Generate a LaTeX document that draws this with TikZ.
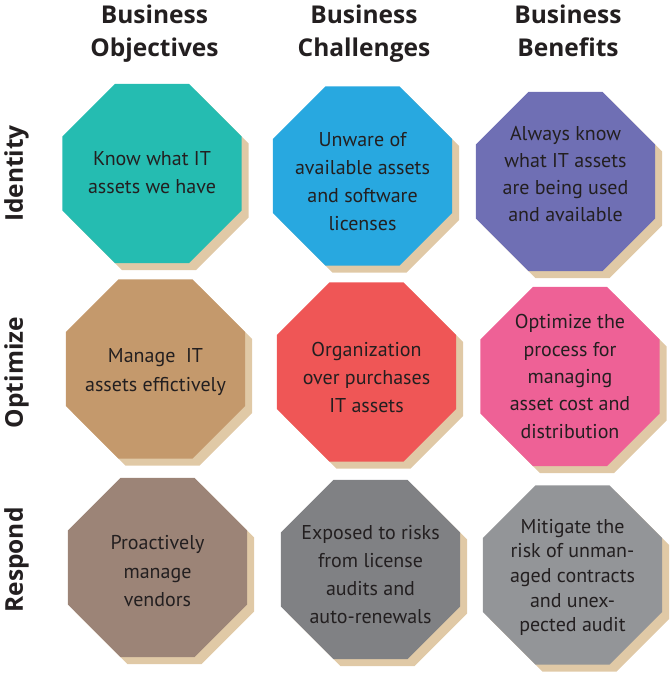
\documentclass[tikz,border=0pt]{standalone}
\usepackage{fontspec}
\setmainfont{PT Sans}
\newfontfamily\headfont{Open Sans}
\usetikzlibrary{shapes.geometric}
\definecolor{inkc}{HTML}{231F20}
\definecolor{shadowc}{HTML}{E0C9A6}
\definecolor{tealc}{HTML}{25BCB1}
\definecolor{bluec}{HTML}{28A8E0}
\definecolor{purplec}{HTML}{6F6FB4}
\definecolor{tanc}{HTML}{C4996C}
\definecolor{redc}{HTML}{EF5656}
\definecolor{pinkc}{HTML}{EE6196}
\definecolor{taupec}{HTML}{9C8477}
\definecolor{dgrayc}{HTML}{808184}
\definecolor{grayc}{HTML}{939598}
\newcommand\octo[7]{%
  \node[octshadow] (#1s) at ({#2+7},{#3+7}) {};
  \node[octbase, fill=#4] (#1) at (#2,#3) {};
  \node[octtext, font=\fontsize{20}{#6}\selectfont] (#1t) at (#2,#5) {#7};
}
\begin{document}
\begin{tikzpicture}[x=1pt,y=-1pt,
  octbase/.style={regular polygon, regular polygon sides=8, minimum size=193.8pt, inner sep=0pt, outer sep=0pt, draw=none},
  octshadow/.style={octbase, fill=shadowc},
  octtext/.style={align=center, inner sep=0pt, text depth=0pt, anchor=south, text=inkc},
  header/.style={align=center, inner sep=0pt, text depth=0pt, anchor=south, font=\headfont\bfseries\fontsize{24.5}{33.4}\selectfont, text=inkc},
  rowlab/.style={rotate=90, inner sep=0pt, text depth=0pt, anchor=south, font=\headfont\bfseries\fontsize{24.5}{33}\selectfont, text=inkc}]
\useasboundingbox (0,0) rectangle (670,673);
% headers
\node[header] (h1) at (154.5,56.7) {Business\\Objectives};
\node[header] (h2) at (364,56.7) {Business\\Challenges};
\node[header] (h3) at (568,56.7) {Business\\Benefits};
% row labels
\node[rowlab] (r1) at (23,173.5) {Identity};
\node[rowlab] (r2) at (23,372.5) {Optimize};
\node[rowlab] (r3) at (23,560) {Respond};
% octagons
\octo{o1}{152}{173.5}{tealc}{193.3}{27.5}{Know what IT\\assets we have}
\octo{o2}{362.5}{176}{bluec}{230.7}{28}{Unware of\\available assets\\and software\\licenses}
\octo{o3}{565.5}{181.5}{purplec}{222}{27}{Always know\\what IT assets\\are being used\\and available}
\octo{o4}{155.5}{369}{tanc}{391.7}{29}{Manage~ IT\\assets effictively}
\octo{o5}{366.5}{372}{redc}{412.7}{28}{Organization\\over purchases\\IT assets}
\octo{o6}{570}{376.5}{pinkc}{438.3}{27.3}{Optimize the\\process for\\managing\\asset cost and\\distribution}
\octo{o7}{157.5}{567.5}{taupec}{606.7}{28.3}{Proactively\\manage\\vendors}
\octo{o8}{370.5}{569.5}{dgrayc}{624}{28}{Exposed to risks\\from license\\audits and\\auto-renewals}
\octo{o9}{572.5}{575}{grayc}{632}{24.7}{Mitigate the\\risk of unman-\\aged contracts\\and unex-\\pected audit}
\end{tikzpicture}
\end{document}
